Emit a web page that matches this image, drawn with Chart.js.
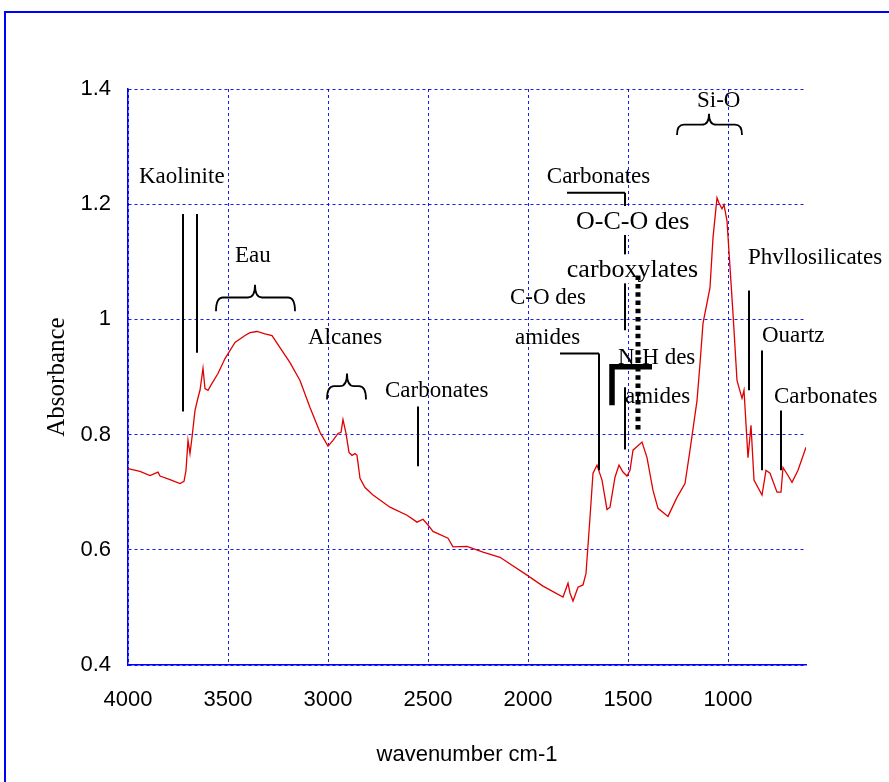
<!DOCTYPE html>
<html>
<head>
<meta charset="utf-8">
<script src="https://cdn.jsdelivr.net/npm/chart.js@4.4.1/dist/chart.umd.min.js"></script>
<style>
  html, body { margin: 0; padding: 0; background: #ffffff; }
  #wrap { width: 889px; height: 782px; }
</style>
</head>
<body>
<div id="wrap"><canvas id="c" width="889" height="782"></canvas></div>
<script>
// ---- Data ----
const wavenumbers = [4000,3940,3890,3850,3840,3790,3740,3720,3710,3700,
  3690,3680,3665,3650,3640,3625,3615,3600,3580,3550,
  3515,3465,3415,3390,3355,3315,3280,3240,3190,3140,
  3090,3040,3000,2975,2950,2935,2925,2910,2895,2880,
  2865,2855,2840,2815,2775,2690,2605,2555,2525,2500,
  2475,2400,2375,2305,2225,2140,2005,1925,1825,1800,
  1790,1775,1750,1725,1710,1690,1675,1655,1630,1605,
  1590,1565,1545,1525,1505,1490,1475,1430,1405,1375,
  1350,1300,1255,1215,1190,1155,1140,1125,1090,1075,
  1055,1045,1030,1020,1005,975,955,930,920,900,
  885,870,830,810,790,755,735,725,700,680,
  650,610];
const absorbance = [0.741,0.736,0.729,0.735,0.728,0.722,0.715,0.719,0.738,0.790,
  0.767,0.795,0.842,0.864,0.877,0.915,0.880,0.877,0.889,0.906,
  0.932,0.960,0.972,0.977,0.979,0.975,0.972,0.951,0.925,0.894,
  0.847,0.804,0.780,0.790,0.802,0.804,0.826,0.802,0.769,0.764,
  0.767,0.764,0.724,0.708,0.695,0.674,0.660,0.648,0.653,0.643,
  0.632,0.620,0.605,0.606,0.596,0.587,0.556,0.537,0.518,0.542,
  0.525,0.511,0.535,0.539,0.559,0.656,0.733,0.747,0.721,0.670,
  0.674,0.726,0.747,0.735,0.728,0.738,0.773,0.787,0.760,0.703,
  0.672,0.658,0.691,0.715,0.773,0.859,0.923,0.993,1.055,1.142,
  1.211,1.202,1.192,1.199,1.171,1.010,0.894,0.863,0.877,0.760,
  0.816,0.721,0.695,0.738,0.733,0.700,0.700,0.743,0.729,0.717,
  0.738,0.778];

const xTicks = [4000,3500,3000,2500,2000,1500,1000];
const xTickLabels = ['4000','3500','3000','2500','2000','1500','1000'];
const yTicks = [0.4,0.6,0.8,1.0,1.2,1.4];
const yTickLabels = ['0.4','0.6','0.8','1','1.2','1.4'];
const xTitle = 'wavenumber cm-1';
const yTitle = 'Absorbance';

// ---- Annotation labels (anchored in data coordinates: wavenumber, absorbance) ----
const labelTexts = ['Kaolinite','Eau','Alcanes','Carbonates','Carbonates','C-O des','amides',
  'N-H des','amides','Si-O','Phvllosilicates','Ouartz','Carbonates'];
const labelWn    = [3945,3465,3100,2715,1906,2090,2065,1550,1515,1155,900,830,770];
const labelAbs   = [1.236,1.099,0.958,0.865,1.236,1.026,0.958,0.923,0.854,1.369,1.097,0.960,0.854];
const bigTexts = ['O-C-O des','carboxylates'];
const bigWn    = [1760,1806];
const bigAbs   = [1.157,1.073];

// thin marker segments [wn1, abs1, wn2, abs2]
const thinSegs = [
  [3725,1.183,3725,0.840],
  [3655,1.183,3655,0.942],
  [2550,0.849,2550,0.745],
  [1805,1.220,1515,1.220],
  [1515,1.220,1515,0.981],
  [1840,0.941,1645,0.941],
  [1645,0.941,1645,0.738],
  [1515,0.882,1515,0.774],
  [895,1.050,895,0.877],
  [830,0.946,830,0.738],
  [735,0.842,735,0.738]
];
const thickSegs = [
  [1580,0.918,1380,0.918],
  [1580,0.918,1580,0.851]
];
const dottedSeg = [1450,1.076,1450,0.804];
// braces [leftWn, rightWn, tipWn, bottomAbs, barAbs, tipAbs]
const braces = [
  [3560,3165,3365,1.014,1.038,1.060],
  [3005,2810,2905,0.861,0.884,0.906],
  [1255,930,1095,1.320,1.338,1.357]
];

const serif = '"Liberation Serif", "Times New Roman", serif';
const sans = '"Liberation Sans", Arial, sans-serif';

const annoPlugin = {
  id: 'anno',
  beforeDraw(chart) {
    const ctx = chart.ctx;
    ctx.save();
    ctx.fillStyle = '#ffffff';
    ctx.fillRect(0, 0, chart.width, chart.height);
    ctx.strokeStyle = '#0000ff';
    ctx.lineWidth = 2;
    ctx.strokeRect(5, 12, chart.width + 20, chart.height + 20);
    ctx.restore();
  },
  afterDraw(chart) {
    const ctx = chart.ctx;
    const xs = chart.scales.x, ys = chart.scales.y;
    const X = v => xs.getPixelForValue(v);
    const Y = v => ys.getPixelForValue(v);
    const ca = chart.chartArea;
    ctx.save();
    // axis titles
    ctx.fillStyle = '#000';
    ctx.font = '22px ' + sans;
    ctx.textAlign = 'center';
    ctx.textBaseline = 'alphabetic';
    ctx.fillText(xTitle, (ca.left + ca.right) / 2, 761);
    ctx.save();
    ctx.translate(57, (ca.top + ca.bottom) / 2);
    ctx.rotate(-Math.PI / 2);
    ctx.font = '25px ' + serif;
    ctx.textBaseline = 'middle';
    ctx.fillText(yTitle, 0, 0);
    ctx.restore();

    // thin lines
    ctx.strokeStyle = '#000';
    ctx.lineWidth = 2;
    ctx.lineCap = 'butt';
    thinSegs.forEach(s => {
      ctx.beginPath();
      ctx.moveTo(X(s[0]), Y(s[1]));
      ctx.lineTo(X(s[2]), Y(s[3]));
      ctx.stroke();
    });
    // braces
    ctx.lineWidth = 1.8;
    braces.forEach(b => {
      const xl = X(b[0]), xr = X(b[1]), xt = X(b[2]);
      const yb = Y(b[3]), yh = Y(b[4]), yt = Y(b[5]);
      const r = 7;
      ctx.beginPath();
      ctx.moveTo(xl, yb);
      ctx.quadraticCurveTo(xl, yh, xl + r, yh);
      ctx.lineTo(xt - r, yh);
      ctx.quadraticCurveTo(xt, yh, xt, yt);
      ctx.quadraticCurveTo(xt, yh, xt + r, yh);
      ctx.lineTo(xr - r, yh);
      ctx.quadraticCurveTo(xr, yh, xr, yb);
      ctx.stroke();
    });
    // big texts with white background
    ctx.textAlign = 'left';
    ctx.textBaseline = 'alphabetic';
    ctx.font = '26px ' + serif;
    bigTexts.forEach((t, i) => {
      const m = ctx.measureText(t);
      const x = X(bigWn[i]), y = Y(bigAbs[i]);
      const asc = m.fontBoundingBoxAscent || 23, desc = m.fontBoundingBoxDescent || 6;
      ctx.fillStyle = '#fff';
      ctx.fillRect(x, y - asc, m.width, asc + desc);
      ctx.fillStyle = '#000';
      ctx.fillText(t, x, y);
    });
    // normal labels
    ctx.font = '23px ' + serif;
    ctx.fillStyle = '#000';
    labelTexts.forEach((t, i) => {
      ctx.fillText(t, X(labelWn[i]), Y(labelAbs[i]));
    });
    // thick L
    ctx.lineWidth = 5.5;
    ctx.lineCap = 'butt';
    ctx.lineJoin = 'miter';
    ctx.beginPath();
    ctx.moveTo(X(thickSegs[0][2]), Y(thickSegs[0][3]));
    ctx.lineTo(X(thickSegs[0][0]), Y(thickSegs[0][1]));
    ctx.lineTo(X(thickSegs[1][2]), Y(thickSegs[1][3]));
    ctx.stroke();
    // dotted thick line
    ctx.lineWidth = 5;
    ctx.setLineDash([4.5, 3.8]);
    ctx.beginPath();
    ctx.moveTo(X(dottedSeg[0]), Y(dottedSeg[1]));
    ctx.lineTo(X(dottedSeg[2]), Y(dottedSeg[3]));
    ctx.stroke();
    ctx.setLineDash([]);
    ctx.restore();
  }
};

new Chart(document.getElementById('c'), {
  type: 'line',
  data: {
    datasets: [{
      data: wavenumbers.map((w, i) => ({ x: w, y: absorbance[i] })),
      borderColor: '#e00000',
      borderWidth: 1.3,
      pointRadius: 0,
      tension: 0,
      fill: false
    }]
  },
  options: {
    responsive: false,
    animation: false,
    devicePixelRatio: 1,
    layout: { padding: { top: 89, right: 83, left: 0, bottom: 0 } },
    plugins: { legend: { display: false }, tooltip: { enabled: false } },
    scales: {
      x: {
        type: 'linear',
        reverse: true,
        min: 610,
        max: 4000,
        afterBuildTicks: s => { s.ticks = xTicks.map(v => ({ value: v })); },
        afterFit: s => { s.height = 117; },
        ticks: {
          autoSkip: false, maxRotation: 0, padding: 22, color: '#000',
          font: { family: sans, size: 22 },
          callback: v => { const i = xTicks.indexOf(v); return i >= 0 ? xTickLabels[i] : ''; }
        },
        grid: { color: 'rgba(0,0,240,0.9)', lineWidth: 1, drawTicks: false },
        border: { display: true, color: '#0000ff', width: 1.5, dash: [3, 3] }
      },
      y: {
        min: 0.4,
        max: 1.4,
        afterBuildTicks: s => { s.ticks = yTicks.map(v => ({ value: v })); },
        afterFit: s => { s.width = 128; },
        ticks: {
          padding: 17, color: '#000',
          font: { family: sans, size: 22 },
          callback: v => { const i = yTicks.findIndex(t => Math.abs(t - v) < 1e-9); return i >= 0 ? yTickLabels[i] : ''; }
        },
        grid: { color: 'rgba(0,0,240,0.9)', lineWidth: 1, drawTicks: false },
        border: { display: true, color: '#0000ff', width: 1.5, dash: [3, 3] }
      }
    }
  },
  plugins: [annoPlugin]
});
</script>
</body>
</html>
